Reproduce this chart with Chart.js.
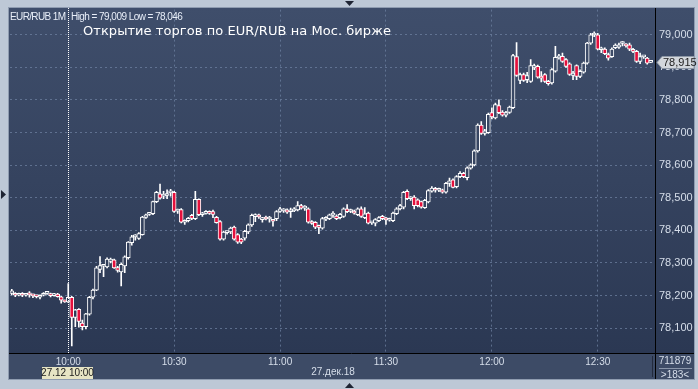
<!DOCTYPE html>
<html><head><meta charset="utf-8">
<script src="https://cdn.jsdelivr.net/npm/chart.js@4.4.1/dist/chart.umd.min.js"></script>
<style>html,body{margin:0;padding:0;background:#bdc8d6;overflow:hidden}</style>
</head><body>
<canvas id="c" width="698" height="389"></canvas>
<script>
// ---- data ----
const symbol = 'EUR/RUB 1M';
const title = 'Открытие торгов по EUR/RUB на Мос. бирже';
const dateLabel = '27.дек.18';
const cursorLabel = '27.12 10:00';
const cursorTime = '10:00';
const volumeText = '711879';
const barsText = '>183<';
const lastPrice = 78.915;
const startHour = 9, startMinute = 44, slotCount = 183;
const yTicks = [78.1, 78.2, 78.3, 78.4, 78.5, 78.6, 78.7, 78.8, 78.9, 79.0];
const yMin = 78.024, yMax = 79.077;

const open = [78.207,78.207,78.201,78.206,78.201,78.204,78.202,78.199,78.195,78.201,
78.207,78.206,78.200,78.205,78.196,78.184,78.181,78.195,78.133,78.158,
78.116,78.105,78.143,78.195,78.217,78.280,78.290,78.288,78.305,78.310,
78.286,78.273,78.291,78.316,78.362,78.380,78.375,78.387,78.440,78.449,
78.451,78.488,78.512,78.505,78.507,78.515,78.517,78.459,78.464,78.425,
78.430,78.446,78.436,78.495,78.448,78.452,78.456,78.458,78.440,78.427,
78.373,78.393,78.395,78.410,78.387,78.373,78.376,78.395,78.417,78.442,
78.448,78.433,78.441,78.435,78.430,78.436,78.458,78.460,78.463,78.457,
78.460,78.463,78.476,78.468,78.466,78.425,78.425,78.414,78.407,78.434,
78.436,78.447,78.444,78.439,78.443,78.466,78.458,78.459,78.448,78.466,
78.439,78.453,78.423,78.422,78.430,78.443,78.437,78.431,78.430,78.451,
78.466,78.471,78.520,78.497,78.502,78.494,78.488,78.470,78.487,78.520,
78.527,78.523,78.524,78.517,78.544,78.555,78.534,78.565,78.575,78.562,
78.591,78.601,78.644,78.723,78.697,78.700,78.761,78.745,78.783,78.763,
78.753,78.762,78.776,78.933,78.860,78.878,78.862,78.857,78.898,78.903,
78.872,78.878,78.857,78.852,78.888,78.929,78.934,78.924,78.911,78.875,
78.905,78.872,78.885,78.913,78.974,78.999,79.000,78.954,78.956,78.939,
78.933,78.960,78.962,78.973,78.969,78.969,78.955,78.949,78.918,78.932,
78.928,78.915];
const close = [78.215,78.201,78.206,78.201,78.204,78.202,78.199,78.197,78.200,78.207,
78.208,78.200,78.205,78.197,78.186,78.181,78.195,78.133,78.156,78.121,
78.105,78.144,78.195,78.217,78.285,78.292,78.292,78.312,78.312,78.285,
78.277,78.296,78.319,78.364,78.380,78.382,78.390,78.441,78.448,78.450,
78.488,78.517,78.499,78.510,78.512,78.520,78.458,78.462,78.425,78.430,
78.437,78.437,78.495,78.448,78.451,78.458,78.452,78.449,78.424,78.373,
78.395,78.396,78.407,78.373,78.364,78.364,78.397,78.417,78.446,78.448,
78.441,78.438,78.435,78.441,78.428,78.458,78.466,78.463,78.456,78.463,
78.466,78.476,78.468,78.472,78.425,78.421,78.410,78.409,78.436,78.438,
78.448,78.449,78.436,78.449,78.466,78.457,78.462,78.453,78.466,78.443,
78.451,78.422,78.425,78.433,78.439,78.436,78.432,78.436,78.453,78.466,
78.476,78.517,78.497,78.501,78.476,78.476,78.471,78.492,78.522,78.530,
78.523,78.527,78.517,78.544,78.552,78.532,78.565,78.575,78.565,78.592,
78.601,78.644,78.723,78.697,78.705,78.756,78.748,78.786,78.761,78.753,
78.761,78.778,78.936,78.875,78.878,78.860,78.875,78.905,78.905,78.870,
78.867,78.857,78.850,78.893,78.931,78.934,78.918,78.903,78.878,78.882,
78.872,78.888,78.913,78.974,79.000,79.003,78.956,78.957,78.942,78.928,
78.956,78.968,78.969,78.974,78.966,78.956,78.949,78.918,78.933,78.933,
78.913,78.915];
const high = [78.219,78.209,78.208,78.209,78.207,78.212,78.205,78.201,78.202,78.209,
78.211,78.208,78.207,78.207,78.198,78.186,78.237,78.198,78.158,78.160,
78.125,78.146,78.198,78.220,78.290,78.320,78.295,78.316,78.315,78.312,
78.290,78.300,78.322,78.366,78.385,78.387,78.393,78.443,78.450,78.453,
78.490,78.520,78.542,78.520,78.524,78.526,78.520,78.465,78.467,78.432,
78.440,78.449,78.520,78.497,78.455,78.461,78.460,78.462,78.443,78.430,
78.398,78.398,78.410,78.413,78.390,78.376,78.400,78.420,78.450,78.451,
78.450,78.440,78.444,78.443,78.433,78.461,78.471,78.467,78.466,78.468,
78.470,78.488,78.480,78.476,78.469,78.430,78.427,78.416,78.440,78.442,
78.450,78.458,78.448,78.452,78.469,78.479,78.465,78.462,78.469,78.472,
78.470,78.456,78.428,78.436,78.442,78.446,78.440,78.438,78.456,78.470,
78.480,78.520,78.524,78.504,78.507,78.497,78.490,78.495,78.525,78.534,
78.532,78.530,78.527,78.547,78.560,78.558,78.568,78.580,78.578,78.595,
78.604,78.647,78.727,78.734,78.710,78.760,78.776,78.790,78.800,78.767,
78.765,78.781,78.940,78.976,78.882,78.882,78.885,78.924,78.910,78.907,
78.887,78.881,78.860,78.896,78.964,78.940,78.944,78.927,78.914,78.888,
78.908,78.892,78.916,78.977,79.004,79.009,79.004,78.962,78.960,78.944,
78.960,78.972,78.974,78.979,78.973,78.974,78.958,78.952,78.944,78.936,
78.931,78.916];
const low = [78.202,78.197,78.199,78.197,78.198,78.195,78.194,78.193,78.190,78.199,
78.204,78.196,78.198,78.195,78.177,78.179,78.178,78.046,78.105,78.103,
78.095,78.098,78.140,78.190,78.215,78.270,78.258,78.285,78.300,78.283,
78.272,78.230,78.270,78.312,78.355,78.370,78.372,78.385,78.437,78.446,
78.448,78.485,78.496,78.497,78.497,78.505,78.455,78.452,78.423,78.418,
78.426,78.433,78.433,78.445,78.443,78.450,78.449,78.439,78.422,78.370,
78.370,78.388,78.390,78.370,78.360,78.359,78.370,78.390,78.412,78.427,
78.437,78.425,78.432,78.425,78.413,78.430,78.455,78.455,78.452,78.440,
78.457,78.460,78.465,78.461,78.422,78.418,78.405,78.390,78.404,78.430,
78.433,78.440,78.433,78.435,78.440,78.454,78.454,78.450,78.445,78.440,
78.436,78.420,78.418,78.414,78.427,78.433,78.418,78.428,78.427,78.448,
78.463,78.466,78.494,78.492,78.466,78.472,78.468,78.467,78.484,78.517,
78.517,78.519,78.514,78.514,78.535,78.530,78.530,78.562,78.562,78.555,
78.588,78.598,78.640,78.694,78.692,78.697,78.742,78.742,78.758,78.750,
78.748,78.759,78.773,78.872,78.850,78.857,78.853,78.854,78.893,78.867,
78.855,78.854,78.845,78.848,78.885,78.925,78.915,78.900,78.875,78.862,
78.862,78.868,78.882,78.910,78.970,78.994,78.953,78.945,78.939,78.922,
78.930,78.957,78.958,78.966,78.962,78.951,78.945,78.915,78.911,78.927,
78.910,78.914];

// category labels (one per minute slot)
const labels = [];
for (let k = 0; k < slotCount; k++) {
  const t = startHour * 60 + startMinute + k;
  labels.push(String(Math.floor(t / 60)).padStart(2, '0') + ':' + String(t % 60).padStart(2, '0'));
}
const fmt = v => v.toFixed(3).replace('.', ',');
const isMajor = l => l && (l.endsWith(':00') || l.endsWith(':30'));

// ---- styling ----
const RED = '#e4103c';
const GRID = 'rgba(110,128,160,0.75)';
const TXT = '#d6deea';
const PLOT_TOP = 8, PLOT_BOTTOM = 353;
let bgGrad = null;
function getGrad(ctx) {
  if (!bgGrad) {
    bgGrad = ctx.createLinearGradient(0, PLOT_TOP, 0, PLOT_BOTTOM);
    bgGrad.addColorStop(0, '#3f4e6b');
    bgGrad.addColorStop(1, '#2b3853');
  }
  return bgGrad;
}

function fitText(ctx, text, x, y, width, font, color) {
  ctx.save();
  ctx.font = font;
  ctx.fillStyle = color;
  ctx.textBaseline = 'middle';
  ctx.textAlign = 'left';
  const w = ctx.measureText(text).width;
  const extra = (width - w) / Math.max(1, text.length - 1);
  ctx.letterSpacing = extra.toFixed(2) + 'px';
  ctx.fillText(text, x, y);
  ctx.restore();
}

const decor = {
  id: 'decor',
  beforeDraw(chart) {
    const ctx = chart.ctx;
    ctx.save();
    ctx.fillStyle = '#bdc8d6';
    ctx.fillRect(0, 0, 698, 389);
    ctx.fillStyle = '#8f9cb0';
    ctx.fillRect(8, 7, 687, 373);
    ctx.fillStyle = getGrad(ctx);
    ctx.fillRect(9, PLOT_TOP, 685, PLOT_BOTTOM - PLOT_TOP);
    ctx.fillStyle = '#3d4b66';
    ctx.fillRect(9, PLOT_BOTTOM, 685, 26);
    ctx.restore();
  },
  afterDraw(chart) {
    const ctx = chart.ctx;
    const xs = chart.scales.x, ys = chart.scales.y;
    ctx.save();
    // separators
    ctx.strokeStyle = '#000';
    ctx.lineWidth = 1;
    ctx.beginPath();
    ctx.moveTo(9, PLOT_BOTTOM + 0.5); ctx.lineTo(694, PLOT_BOTTOM + 0.5);
    ctx.moveTo(655.5, PLOT_TOP); ctx.lineTo(655.5, 379);
    ctx.stroke();
    ctx.strokeStyle = '#232b3d';
    ctx.beginPath();
    ctx.moveTo(652.5, 356); ctx.lineTo(652.5, 377);
    ctx.stroke();
    ctx.strokeStyle = '#8a96aa';
    ctx.beginPath();
    ctx.moveTo(659, 368.5); ctx.lineTo(692, 368.5);
    ctx.stroke();
    ctx.font = '10px "Liberation Sans", Arial, sans-serif';
    ctx.fillStyle = TXT;
    ctx.textAlign = 'center';
    ctx.textBaseline = 'middle';
    ctx.fillText(volumeText, 675, 361);
    ctx.fillText(barsText, 675, 375);
    ctx.fillText(dateLabel, 333, 372);

    // cursor line
    const ci = labels.indexOf(cursorTime);
    const cx = Math.round(xs.getPixelForValue(ci)) + 0.5;
    ctx.strokeStyle = '#ffffff';
    ctx.setLineDash([1, 1]);
    ctx.beginPath();
    ctx.moveTo(cx, PLOT_TOP); ctx.lineTo(cx, PLOT_BOTTOM);
    ctx.stroke();
    ctx.setLineDash([]);
    // cursor label
    ctx.fillStyle = '#e6e4c4';
    ctx.fillRect(42, 367, 51, 12);
    ctx.fillStyle = '#1a1a1a';
    ctx.font = '10px "Liberation Sans", Arial, sans-serif';
    ctx.textAlign = 'center';
    ctx.fillText(cursorLabel, 67.5, 373.5);

    // header
    const hi = Math.max(...high), lo = Math.min(...low);
    fitText(ctx, symbol, 10, 17, 56, '10px "Liberation Sans", Arial, sans-serif', '#e8eef8');
    fitText(ctx, 'High = ' + fmt(hi) + ' Low = ' + fmt(lo), 71, 17, 112, '10px "Liberation Sans", Arial, sans-serif', '#e8eef8');
    fitText(ctx, title, 83, 32, 308, '13px "DejaVu Sans", sans-serif', '#ffffff');

    // last price marker
    const py = Math.round(ys.getPixelForValue(lastPrice)) + 0.5;
    ctx.beginPath();
    ctx.moveTo(657, py);
    ctx.lineTo(662, py - 6);
    ctx.lineTo(694, py - 6);
    ctx.lineTo(694, py + 6);
    ctx.lineTo(662, py + 6);
    ctx.closePath();
    ctx.fillStyle = '#d3d7dc';
    ctx.fill();
    ctx.strokeStyle = '#8e98a6';
    ctx.stroke();
    ctx.fillStyle = '#1c1c1c';
    ctx.font = '11px "Liberation Sans", Arial, sans-serif';
    ctx.textAlign = 'left';
    ctx.fillText(fmt(lastPrice), 663, py + 0.5);

    // frame triangles
    ctx.fillStyle = '#1e2433';
    ctx.beginPath(); ctx.moveTo(1, 190); ctx.lineTo(6, 194.5); ctx.lineTo(1, 199); ctx.fill();
    ctx.beginPath(); ctx.moveTo(345, 1); ctx.lineTo(354, 1); ctx.lineTo(349.5, 6); ctx.fill();
    ctx.beginPath(); ctx.moveTo(345, 388); ctx.lineTo(354, 388); ctx.lineTo(349.5, 383); ctx.fill();
    ctx.restore();
  }
};

const wickData = low.map((l, i) => [l, high[i]]);
const bodyData = open.map((o, i) => [o, close[i]]);

new Chart(document.getElementById('c'), {
  type: 'bar',
  data: {
    labels: labels,
    datasets: [
      {
        label: 'wick',
        data: wickData,
        backgroundColor: '#ffffff',
        borderWidth: 0,
        barThickness: 1,
        grouped: false,
        order: 2
      },
      {
        label: 'body',
        data: bodyData,
        backgroundColor: (c) => {
          const i = c.dataIndex;
          if (i === undefined || open[i] === undefined) return RED;
          return close[i] < open[i] ? RED : getGrad(c.chart.ctx);
        },
        borderColor: '#ffffff',
        borderWidth: 1,
        borderSkipped: false,
        barThickness: 4,
        minBarLength: 2,
        grouped: false,
        order: 1
      }
    ]
  },
  options: {
    responsive: false,
    animation: false,
    events: [],
    devicePixelRatio: 1,
    layout: { padding: { left: 10, top: 8, right: 5, bottom: 10 } },
    plugins: { legend: { display: false }, tooltip: { enabled: false } },
    scales: {
      x: {
        type: 'category',
        offset: true,
        grid: {
          offset: false,
          drawTicks: false,
          color: (c) => (c.type === 'tick' && isMajor(labels[c.index]) && labels[c.index] !== cursorTime) ? GRID : 'rgba(0,0,0,0)'
        },
        border: { display: false, dash: [2, 3] },
        ticks: {
          autoSkip: false,
          maxRotation: 0,
          minRotation: 0,
          padding: 3,
          color: TXT,
          font: { family: '"Liberation Sans", Arial, sans-serif', size: 10 },
          callback: (v, i) => isMajor(labels[i]) ? labels[i] : ''
        },
        afterFit: (s) => { s.height = 26; }
      },
      y: {
        position: 'right',
        min: yMin,
        max: yMax,
        afterBuildTicks: (s) => { s.ticks = yTicks.map(v => ({ value: v })); },
        grid: { drawTicks: false, color: GRID },
        border: { display: false, dash: [2, 3] },
        ticks: {
          padding: 3,
          color: TXT,
          font: { family: '"Liberation Sans", Arial, sans-serif', size: 11 },
          callback: (v) => fmt(v)
        },
        afterFit: (s) => { s.width = 37; }
      }
    }
  },
  plugins: [decor]
});
</script>
</body></html>
